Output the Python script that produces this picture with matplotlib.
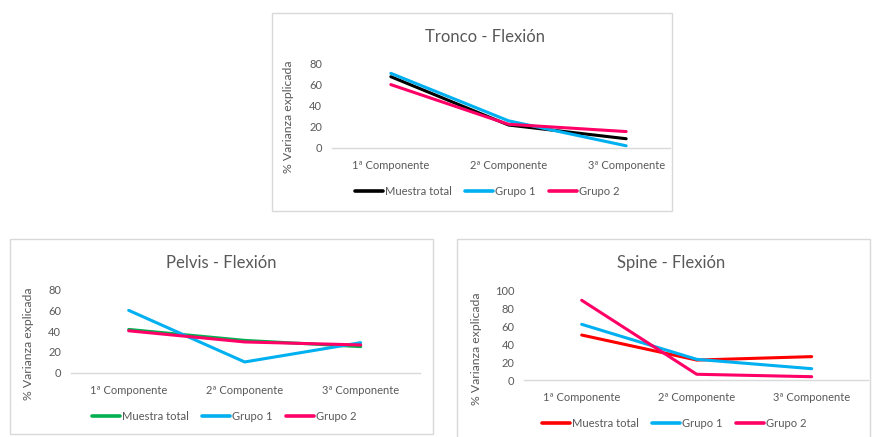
import matplotlib
matplotlib.use("Agg")
import matplotlib.pyplot as plt
from matplotlib.patches import Rectangle
from matplotlib.lines import Line2D

plt.rcParams["font.family"] = ["Lato", "DejaVu Sans"]

W, H = 872, 437
DPI = 100

components = ["1ª Componente", "2ª Componente", "3ª Componente"]
series_names = ["Muestra total", "Grupo 1", "Grupo 2"]

tronco_total = [67.3, 21.5, 8.5]
tronco_g1 = [70.5, 25.5, 1.8]
tronco_g2 = [59.8, 22.2, 15.3]

pelvis_total = [41.5, 31.0, 25.0]
pelvis_g1 = [59.8, 10.3, 28.8]
pelvis_g2 = [40.2, 29.5, 26.6]

spine_total = [50.3, 22.5, 26.3]
spine_g1 = [62.2, 23.3, 12.9]
spine_g2 = [88.9, 6.7, 4.0]

ticks_80 = [0, 20, 40, 60, 80]
ticks_100 = [0, 20, 40, 60, 80, 100]

TEXT = "#595959"
BORDER = "#D9D9D9"
CYAN = "#00B0F0"
PINK = "#FF0066"

fig = plt.figure(figsize=(W / DPI, H / DPI), dpi=DPI)


def fx(x):
    return x / W


def fy(y):
    return 1 - y / H


def panel(title, box, plot, base_end, yticks, series, colors,
          title_xy, ylabel_xy, legend_xy):
    # chart frame
    x0, y0, x1, y1 = box
    fig.add_artist(Rectangle((fx(x0), fy(y1)), fx(x1) - fx(x0), fy(y0) - fy(y1),
                             transform=fig.transFigure, fill=False,
                             edgecolor=BORDER, linewidth=1.0))
    # plot area
    px0, py0, px1, py1 = plot
    ax = fig.add_axes([fx(px0), fy(py1), fx(px1) - fx(px0), fy(py0) - fy(py1)])
    ax.patch.set_alpha(0)
    # category baseline
    fig.add_artist(Line2D([fx(px0), fx(base_end)], [fy(py1), fy(py1)],
                          transform=fig.transFigure, color=BORDER, linewidth=1.0))
    handles = []
    for name, vals, col in zip(series_names, series, colors):
        ln, = ax.plot(range(len(components)), vals, color=col, linewidth=2.2,
                      solid_capstyle="round", solid_joinstyle="round", label=name,
                      clip_on=False)
        handles.append(ln)
    ax.set_xlim(-0.5, len(components) - 0.5)
    ax.set_ylim(yticks[0], yticks[-1])
    ax.set_yticks(yticks)
    ax.set_xticks(range(len(components)))
    ax.set_xticklabels(components)
    ax.tick_params(axis="both", length=0, labelsize=8, labelcolor=TEXT)
    ax.tick_params(axis="y", pad=7)
    ax.tick_params(axis="x", pad=8.5)
    for s in ax.spines.values():
        s.set_visible(False)

    fig.text(fx(title_xy[0]), fy(title_xy[1]), title, ha="center", va="center",
             fontsize=12, color=TEXT)
    fig.text(fx(ylabel_xy[0]), fy(ylabel_xy[1]), "% Varianza explicada",
             rotation=90, ha="center", va="center", fontsize=8.8, color=TEXT)

    leg = ax.legend(handles=handles, ncol=3, loc="center",
                    bbox_to_anchor=(fx(legend_xy[0]), fy(legend_xy[1])),
                    bbox_transform=fig.transFigure, frameon=False,
                    fontsize=8.1, handlelength=2.5, handletextpad=0.15,
                    columnspacing=1.2, borderpad=0, borderaxespad=0)
    for t in leg.get_texts():
        t.set_color(TEXT)
    for lh in leg.get_lines():
        lh.set_linewidth(2.6)
    return ax


panel("Tronco - Flexión",
      box=(271.7, 13.3, 672, 211),
      plot=(332, 63.3, 685, 147.7), base_end=670,
      yticks=ticks_80,
      series=[tronco_total, tronco_g1, tronco_g2],
      colors=["#000000", CYAN, PINK],
      title_xy=(485, 37), ylabel_xy=(288, 117), legend_xy=(487, 191.7))

panel("Pelvis - Flexión",
      box=(9.7, 239.3, 433.3, 434.3),
      plot=(70.7, 289.3, 418.7, 372.7), base_end=419.7,
      yticks=ticks_80,
      series=[pelvis_total, pelvis_g1, pelvis_g2],
      colors=["#00B050", CYAN, PINK],
      title_xy=(221, 262.7), ylabel_xy=(28, 344), legend_xy=(224, 416))

panel("Spine - Flexión",
      box=(457.3, 239.3, 870, 440),
      plot=(524.2, 290.3, 869.2, 380.3), base_end=868,
      yticks=ticks_100,
      series=[spine_total, spine_g1, spine_g2],
      colors=["#FF0000", CYAN, PINK],
      title_xy=(671, 263.3), ylabel_xy=(476.7, 349), legend_xy=(674, 423.7))

fig.savefig("out.png", dpi=DPI, facecolor="white")
